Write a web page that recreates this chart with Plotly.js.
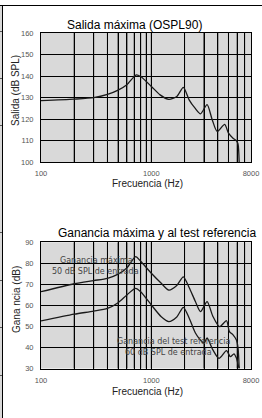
<!DOCTYPE html>
<html><head><meta charset="utf-8">
<script src="https://cdn.plot.ly/plotly-3.0.1.min.js"></script>
<style>
html,body{margin:0;padding:0;background:#fff;width:262px;height:418px;overflow:hidden}
#chart{position:absolute;left:0;top:0;width:262px;height:418px}
.fr{position:absolute;background:#000}
.strip{position:absolute;left:0;top:6px;width:2px;height:412px;background:#d8d8d8}
</style></head><body>
<div class="strip"></div>
<div id="chart"></div>
<div class="fr" style="left:0;top:5px;width:262px;height:1px"></div>
<div class="fr" style="left:2px;top:5px;width:1px;height:413px"></div>
<div class="fr" style="left:0;top:31px;width:2px;height:1px;background:#555"></div>
<div class="fr" style="left:0;top:78px;width:2px;height:1px;background:#555"></div>
<div class="fr" style="left:0;top:125px;width:2px;height:1px;background:#555"></div>
<div class="fr" style="left:0;top:232px;width:2px;height:1px;background:#555"></div>
<div class="fr" style="left:0;top:280px;width:2px;height:1px;background:#555"></div>
<div class="fr" style="left:0;top:327px;width:2px;height:1px;background:#555"></div>
<div class="fr" style="left:0;top:375px;width:2px;height:1px;background:#555"></div>
<script>
// ---- data ----
const gridFreqs = [100,200,300,400,500,600,700,800,900,1000,2000,3000,4000,5000,6000,7000,8000];
const freqLabels = ['100','','','','','','','','','1000','','','','','','','8000'];

const osplFreq = [100,200,300,400,500,600,730,800,1000,1200,1440,1700,1950,2200,2500,2790,3200,3550,3950,4620,5000,5500,5900,6100,6250];
const osplVal  = [128.6,129.3,130.0,131.5,133.5,136.0,140.6,139.8,135.2,131.3,129.2,130.5,134.8,129.0,125.0,122.5,126.8,120.0,114.3,117.6,113.5,111.2,110.0,108.5,100.0];

const maxGainFreq = [100,200,300,400,500,600,720,800,1000,1230,1440,1700,1950,2200,2500,2790,3200,3600,4150,4800,5100,5500,5900,6100,6250];
const maxGainVal  = [66.5,70.3,71.8,72.9,74.9,77.8,83.2,81.0,75.3,70.5,67.3,69.5,73.6,68.5,62.0,57.0,61.8,55.0,49.9,52.7,47.5,46.0,43.5,40.0,30.0];

const refGainFreq = [100,200,300,400,500,600,720,800,1000,1230,1440,1700,1950,2200,2500,2790,3000,3200,3600,4100,4800,5200,5600,5900,6100,6250];
const refGainVal  = [52.6,55.8,57.3,58.6,61.3,65.0,68.1,66.5,60.2,54.6,52.3,54.5,59.1,54.0,47.0,43.5,42.0,44.5,39.0,34.8,38.5,35.6,37.0,35.0,32.0,30.0];

const topTitle = 'Salida máxima (OSPL90)';
const botTitle = 'Ganancia máxima y al test referencia';
const topYTitle = 'Salida (dB SPL)';
const botYTitle = 'Gana ncia (dB)';
const xTitle = 'Frecuencia (Hz)';

// ---- layout ----
const W = 262, H = 418;
const px = v => v / W;
const py = v => 1 - v / H;
const FONT = 'Liberation Sans, Arial, sans-serif';
const lineStyle = {color:'#1a1a1a', width:1.3, shape:'spline', smoothing:0.7};

const xBase = {
  type:'log', range:[2, Math.log10(8000)], domain:[px(41), px(251)],
  tickmode:'array', tickvals:gridFreqs, ticktext:freqLabels, ticks:'', ticklabelstandoff:4,
  showgrid:true, gridcolor:'#000', gridwidth:1, zeroline:false,
  showline:true, linecolor:'#000', linewidth:1, mirror:true,
  tickfont:{family:FONT, size:7.5, color:'#555'}, fixedrange:true
};
const yBase = {
  dtick:10, ticks:'', ticklabelstandoff:5,
  showgrid:true, gridcolor:'#000', gridwidth:1, zeroline:false,
  showline:true, linecolor:'#000', linewidth:1, mirror:true,
  tickfont:{family:FONT, size:7.5, color:'#555'}, fixedrange:true
};

const traces = [
  {x:osplFreq, y:osplVal, xaxis:'x', yaxis:'y', mode:'lines', line:lineStyle, hoverinfo:'skip'},
  {x:maxGainFreq, y:maxGainVal, xaxis:'x2', yaxis:'y2', mode:'lines', line:lineStyle, hoverinfo:'skip'},
  {x:refGainFreq, y:refGainVal, xaxis:'x2', yaxis:'y2', mode:'lines', line:lineStyle, hoverinfo:'skip'}
];

// vertical grid reinforcement (same positions as the axis grid)
const shapes = [];
['x','x2'].forEach(ax => {
  gridFreqs.slice(1, -1).forEach(f => shapes.push({
    type:'line', xref:ax, yref:(ax === 'x' ? 'y' : 'y2') + ' domain',
    x0:f, x1:f, y0:0, y1:1, layer:'below', line:{color:'#000', width:1}
  }));
});

const ann = (text, x, y, size, extra) => Object.assign({
  text, x:px(x), y:py(y), xref:'paper', yref:'paper', showarrow:false,
  xanchor:'center', yanchor:'middle', font:{family:FONT, size, color:'#000'}
}, extra || {});

const layout = {
  width:W, height:H, margin:{l:0,r:0,t:0,b:0},
  paper_bgcolor:'rgba(0,0,0,0)', plot_bgcolor:'#d9d9d9', showlegend:false,
  xaxis:Object.assign({}, xBase, {anchor:'y'}),
  yaxis:Object.assign({}, yBase, {anchor:'x', range:[100,160], domain:[py(162.3), py(33)]}),
  xaxis2:Object.assign({}, xBase, {anchor:'y2'}),
  yaxis2:Object.assign({}, yBase, {anchor:'x2', range:[30,90], domain:[py(368.5), py(242.3)]}),
  shapes,
  annotations:[
    ann(topTitle, 134, 25, 12),
    ann(botTitle, 156.7, 233, 12),
    ann(topYTitle, 16, 91, 10, {textangle:-90, font:{family:FONT, size:10, color:'#222'}}),
    ann(botYTitle, 16, 300, 10, {textangle:-90, font:{family:FONT, size:10, color:'#222'}}),
    ann(xTitle, 147, 183, 10, {font:{family:FONT, size:10, color:'#222'}}),
    ann(xTitle, 147, 391.5, 10, {font:{family:FONT, size:10, color:'#222'}}),
    ann('Ganancia máxima', 96.5, 260, 8, {font:{family:'DejaVu Sans', size:8, color:'#444'}}),
    ann('50 dB SPL de entrada', 95, 271, 8, {font:{family:'DejaVu Sans', size:8, color:'#444'}}),
    ann('Ganancia del test referencia', 173, 341.7, 8, {font:{family:'DejaVu Sans', size:8, color:'#444'}}),
    ann('60 dB SPL de entrada', 168, 352.7, 8, {font:{family:'DejaVu Sans', size:8, color:'#444'}})
  ]
};

Plotly.newPlot('chart', traces, layout, {staticPlot:true, displayModeBar:false});
</script>
</body></html>
